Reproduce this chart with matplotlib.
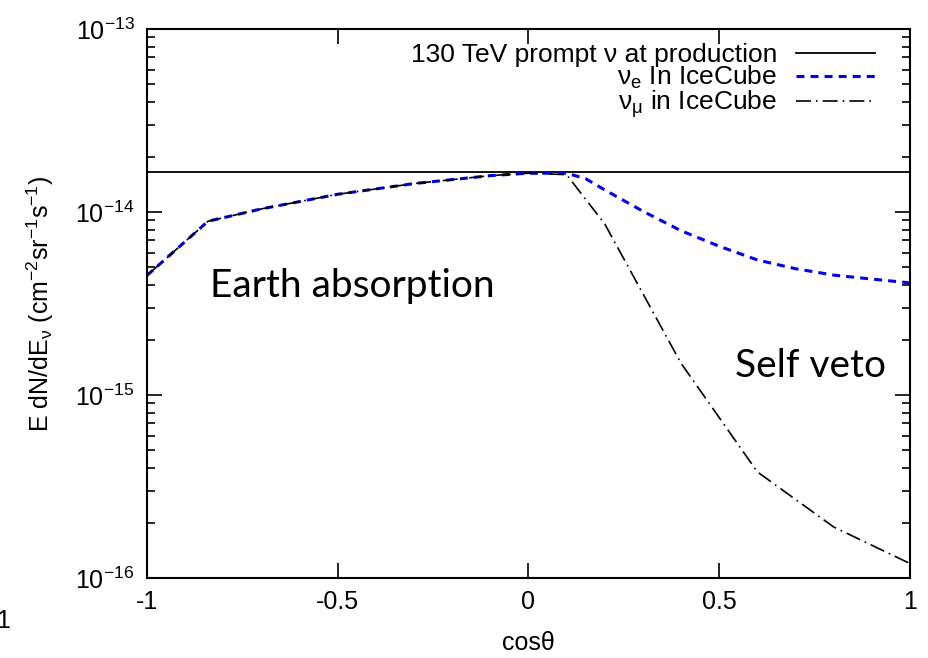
import matplotlib
matplotlib.use('Agg')
import matplotlib.pyplot as plt
from matplotlib.ticker import LogLocator, FixedLocator, NullLocator

plt.rcParams['font.family'] = ['Liberation Sans', 'DejaVu Sans']
plt.rcParams['mathtext.fontset'] = 'custom'
plt.rcParams['mathtext.rm'] = 'Liberation Sans'
plt.rcParams['mathtext.it'] = 'Liberation Sans'
plt.rcParams['mathtext.default'] = 'regular'
plt.rcParams['axes.unicode_minus'] = False

# data
prod_cos = [-1.0, 1.0]
prod_flux = [1.65e-14, 1.65e-14]

nue_cos = [-1.0, -0.84, -0.7, -0.5, -0.3, -0.1, 0.0, 0.1, 0.15, 0.2, 0.3, 0.4,
           0.5, 0.6, 0.7, 0.8, 0.9, 1.0]
nue_flux = [4.5e-15, 8.9e-15, 1.04e-14, 1.25e-14, 1.43e-14, 1.58e-14, 1.63e-14,
            1.63e-14, 1.52e-14, 1.32e-14, 1.01e-14, 7.9e-15, 6.5e-15, 5.47e-15,
            4.9e-15, 4.52e-15, 4.3e-15, 4.1e-15]

numu_cos = [-1.0, -0.84, -0.7, -0.5, -0.3, -0.1, 0.0, 0.1, 0.2, 0.4, 0.6, 0.8, 1.0]
numu_flux = [4.5e-15, 8.9e-15, 1.04e-14, 1.25e-14, 1.43e-14, 1.58e-14, 1.63e-14,
             1.6e-14, 8.6e-15, 1.49e-15, 3.8e-16, 1.9e-16, 1.2e-16]

xticks = [-1, -0.5, 0, 0.5, 1]
xtick_labels = ['-1', '-0.5', '0', '0.5', '1']

fig = plt.figure(figsize=(9.29, 6.58), dpi=100)
ax = fig.add_axes([0.1582, 0.1216, 0.8213, 0.8343])

ax.plot(prod_cos, prod_flux, color='black', lw=1.3,
        label='130 TeV prompt ν at production')
ax.plot(nue_cos, nue_flux, color='#0000ee', lw=2.2, dashes=(2.6, 2.0),
        label='ν$_{e}$ In IceCube')
ax.plot(numu_cos, numu_flux, color='black', lw=1.2, dashes=(9, 3, 1, 3),
        label='ν$_{μ}$ in IceCube')

ax.set_yscale('log')
ax.set_xlim(-1, 1)
ax.set_ylim(1e-16, 1e-13)

ax.xaxis.set_major_locator(FixedLocator(xticks))
ax.set_xticklabels(xtick_labels)
ax.xaxis.set_minor_locator(NullLocator())
ax.yaxis.set_major_locator(LogLocator(base=10, numticks=10))
ax.yaxis.set_minor_locator(LogLocator(base=10, subs=range(2, 10), numticks=10))

ax.tick_params(which='both', direction='in', top=True, right=True,
               labelsize=18, width=1.2)
ax.tick_params(which='major', length=11, pad=9)
ax.tick_params(which='minor', length=6)
for s in ax.spines.values():
    s.set_linewidth(1.5)

ax.set_xlabel('cosθ', fontsize=18, labelpad=12)
ax.set_ylabel('E dN/dE$_{ν}$ (cm$^{-2}$sr$^{-1}$s$^{-1}$)', fontsize=18, labelpad=14)

ax.text(0.083, 0.512, 'Earth absorption', transform=ax.transAxes,
        fontsize=28, family='Lato', ha='left', va='baseline')
ax.text(0.771, 0.366, 'Self veto', transform=ax.transAxes,
        fontsize=28, family='Lato', ha='left', va='baseline')

ax.legend(loc='upper right', bbox_to_anchor=(0.954, 0.975), frameon=False,
          markerfirst=False, fontsize=19, handlelength=3.0, handletextpad=0.7,
          borderpad=0, borderaxespad=0, labelspacing=-0.1)

fig.text(-0.004, 0.046, '1', fontsize=18, ha='left', va='baseline')

fig.savefig('out.png', dpi=100)
